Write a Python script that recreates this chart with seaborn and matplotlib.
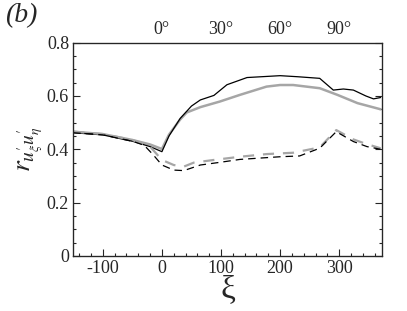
import numpy as np
import pandas as pd
import matplotlib
matplotlib.use("Agg")
import matplotlib.pyplot as plt
import seaborn as sns
from matplotlib.ticker import MultipleLocator

# solid black curve
xi_black = [-150, -100, -48, -20, 0, 12, 31, 50, 65, 88, 110, 144, 200, 230, 267, 290, 307, 324, 345, 358, 370]
r_black = [0.462, 0.454, 0.429, 0.410, 0.391, 0.450, 0.516, 0.562, 0.585, 0.602, 0.642, 0.669, 0.676, 0.672, 0.666, 0.622, 0.626, 0.622, 0.600, 0.589, 0.594]

# solid grey curve
xi_grey = [-150, -100, -50, -20, 0, 12, 31, 42, 65, 98, 132, 177, 200, 222, 267, 297, 331, 370]
r_grey = [0.466, 0.457, 0.435, 0.418, 0.401, 0.455, 0.512, 0.538, 0.558, 0.579, 0.604, 0.635, 0.641, 0.641, 0.629, 0.604, 0.573, 0.550]

# dashed black curve
xi_black_d = [-150, -100, -48, -30, -15, 0, 20, 37, 65, 98, 132, 200, 233, 267, 295, 324, 347, 370]
r_black_d = [0.462, 0.454, 0.429, 0.415, 0.380, 0.341, 0.322, 0.320, 0.341, 0.351, 0.362, 0.372, 0.375, 0.404, 0.466, 0.429, 0.410, 0.400]

# dashed grey curve
xi_grey_d = [-150, -100, -50, -20, 0, 20, 37, 54, 88, 132, 177, 222, 267, 295, 324, 347, 370]
r_grey_d = [0.466, 0.457, 0.435, 0.410, 0.360, 0.341, 0.335, 0.350, 0.360, 0.372, 0.382, 0.387, 0.407, 0.472, 0.437, 0.419, 0.404]

top_ticks = [0, 100, 200, 300]
top_labels = ["0°", "30°", "60°", "90°"]

sns.set_style("ticks")
plt.rcParams['font.family'] = ['Liberation Serif', 'DejaVu Serif']
plt.rcParams['mathtext.fontset'] = 'stix'
plt.rcParams['axes.unicode_minus'] = False

fig = plt.figure(figsize=(4.07, 3.11), dpi=100)
ax = fig.add_axes([0.180, 0.177, 0.758, 0.686])

grey = '#a6a6a6'
sns.lineplot(x=xi_grey, y=r_grey, ax=ax, color=grey, lw=1.8, sort=False)
sns.lineplot(x=xi_black, y=r_black, ax=ax, color='black', lw=0.9, sort=False)
sns.lineplot(x=xi_grey_d, y=r_grey_d, ax=ax, color=grey, lw=1.6, sort=False,
             linestyle=(0, (5, 4)))
sns.lineplot(x=xi_black_d, y=r_black_d, ax=ax, color='black', lw=0.9, sort=False,
             linestyle=(0, (6, 4)))

ax.set_xlim(-150, 372)
ax.set_ylim(0, 0.8)
ax.xaxis.set_major_locator(MultipleLocator(100))
ax.xaxis.set_minor_locator(MultipleLocator(20))
ax.yaxis.set_minor_locator(MultipleLocator(0.05))
ax.set_yticks([0, 0.2, 0.4, 0.6, 0.8])
ax.set_yticklabels(['0', '0.2', '0.4', '0.6', '0.8'])
ax.tick_params(which='both', direction='in', top=True, right=True, labelsize=13, pad=3)
ax.tick_params(which='major', length=5, width=0.8)
ax.tick_params(which='minor', length=2.5, width=0.8)
for s in ax.spines.values():
    s.set_linewidth(0.9)

ax.set_xlabel('ξ', fontsize=24, labelpad=-2)
ax.set_ylabel(r'$r_{u^{\prime}_{\xi}u^{\prime}_{\eta}}$', fontsize=20, labelpad=1)

ax_top = ax.twiny()
ax_top.set_xlim(ax.get_xlim())
ax_top.set_xticks(top_ticks)
ax_top.set_xticklabels(top_labels)
ax_top.tick_params(direction='in', length=0, labelsize=13, pad=3)

fig.text(0.012, 0.99, '(b)', fontsize=20, style='italic', ha='left', va='top')

fig.savefig('out.png', dpi=100)
